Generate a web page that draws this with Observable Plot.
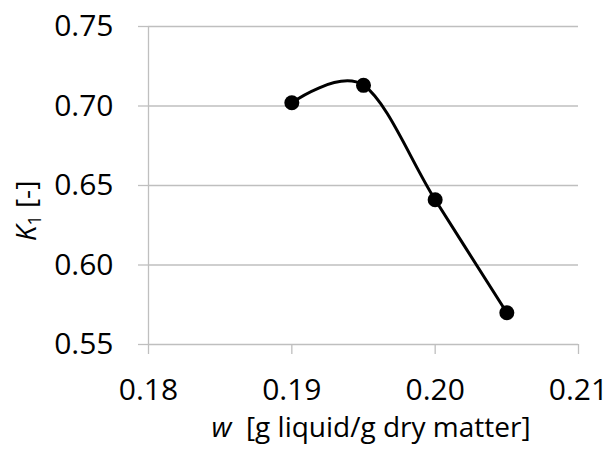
<!DOCTYPE html>
<html>
<head>
<meta charset="utf-8">
<script src="https://cdn.jsdelivr.net/npm/d3@7"></script>
<script src="https://cdn.jsdelivr.net/npm/@observablehq/plot@0.6"></script>
<style>
  html, body { margin: 0; padding: 0; background: #fff; }
  svg { display: block; }
</style>
</head>
<body>
<div id="chart"></div>
<script>
const w = [0.19, 0.195, 0.20, 0.205];
const K1 = [0.702, 0.713, 0.641, 0.570];
const xTicks = [0.18, 0.19, 0.20, 0.21];
const yTicks = [0.55, 0.60, 0.65, 0.70, 0.75];
const xTitleItalic = "w";
const xTitleRest = "  [g liquid/g dry matter]";
const yTitleItalic = "K";
const yTitleSub = "1";
const yTitleRest = " [-]";

const data = w.map((d, i) => ({w: d, K: K1[i]}));
const grid = "#bfbfbf";

const chart = Plot.plot({
  width: 609,
  height: 455,
  marginLeft: 148,
  marginRight: 31,
  marginTop: 26,
  marginBottom: 111,
  style: {fontFamily: "'Open Sans', sans-serif", fontSize: "30px", background: "#fff", color: "#000"},
  x: {domain: [0.18, 0.21]},
  y: {domain: [0.55, 0.75]},
  marks: [
    Plot.ruleY(yTicks, {stroke: grid, strokeWidth: 1.3}),
    Plot.ruleX([0.18], {stroke: grid, strokeWidth: 1.3}),
    Plot.axisY(yTicks, {tickSize: 10, tickPadding: 25, tickFormat: d3.format(".2f"), stroke: grid, strokeWidth: 1.3, fill: "#000", label: null}),
    Plot.axisX(xTicks, {tickSize: 10, tickPadding: 24, tickFormat: d3.format(".2f"), stroke: grid, strokeWidth: 1.3, fill: "#000", label: null}),
    Plot.line(data, {x: "w", y: "K", curve: "cardinal", tension: 0, stroke: "#000", strokeWidth: 3}),
    Plot.dot(data, {x: "w", y: "K", r: 7.5, fill: "#000", stroke: "none"})
  ]
});

const svg = d3.select(chart);
// x title
const xt = svg.append("text")
  .attr("x", 371).attr("y", 437)
  .attr("text-anchor", "middle")
  .attr("font-family", "'Open Sans', sans-serif")
  .attr("font-size", 28)
  .attr("fill", "#000")
  .style("white-space", "pre");
xt.append("tspan").attr("font-style", "italic").text(xTitleItalic);
xt.append("tspan").text(xTitleRest);

// y title
const yt = svg.append("text")
  .attr("transform", "translate(36,211) rotate(-90)")
  .attr("text-anchor", "middle")
  .attr("font-family", "'Open Sans', sans-serif")
  .attr("font-size", 28)
  .attr("fill", "#000")
  .style("white-space", "pre");
yt.append("tspan").attr("font-style", "italic").text(yTitleItalic);
yt.append("tspan").attr("font-size", 18).attr("dy", "0.3em").text(yTitleSub);
yt.append("tspan").attr("dy", "-0.2em").text(yTitleRest);

document.getElementById("chart").appendChild(chart);
</script>
</body>
</html>
